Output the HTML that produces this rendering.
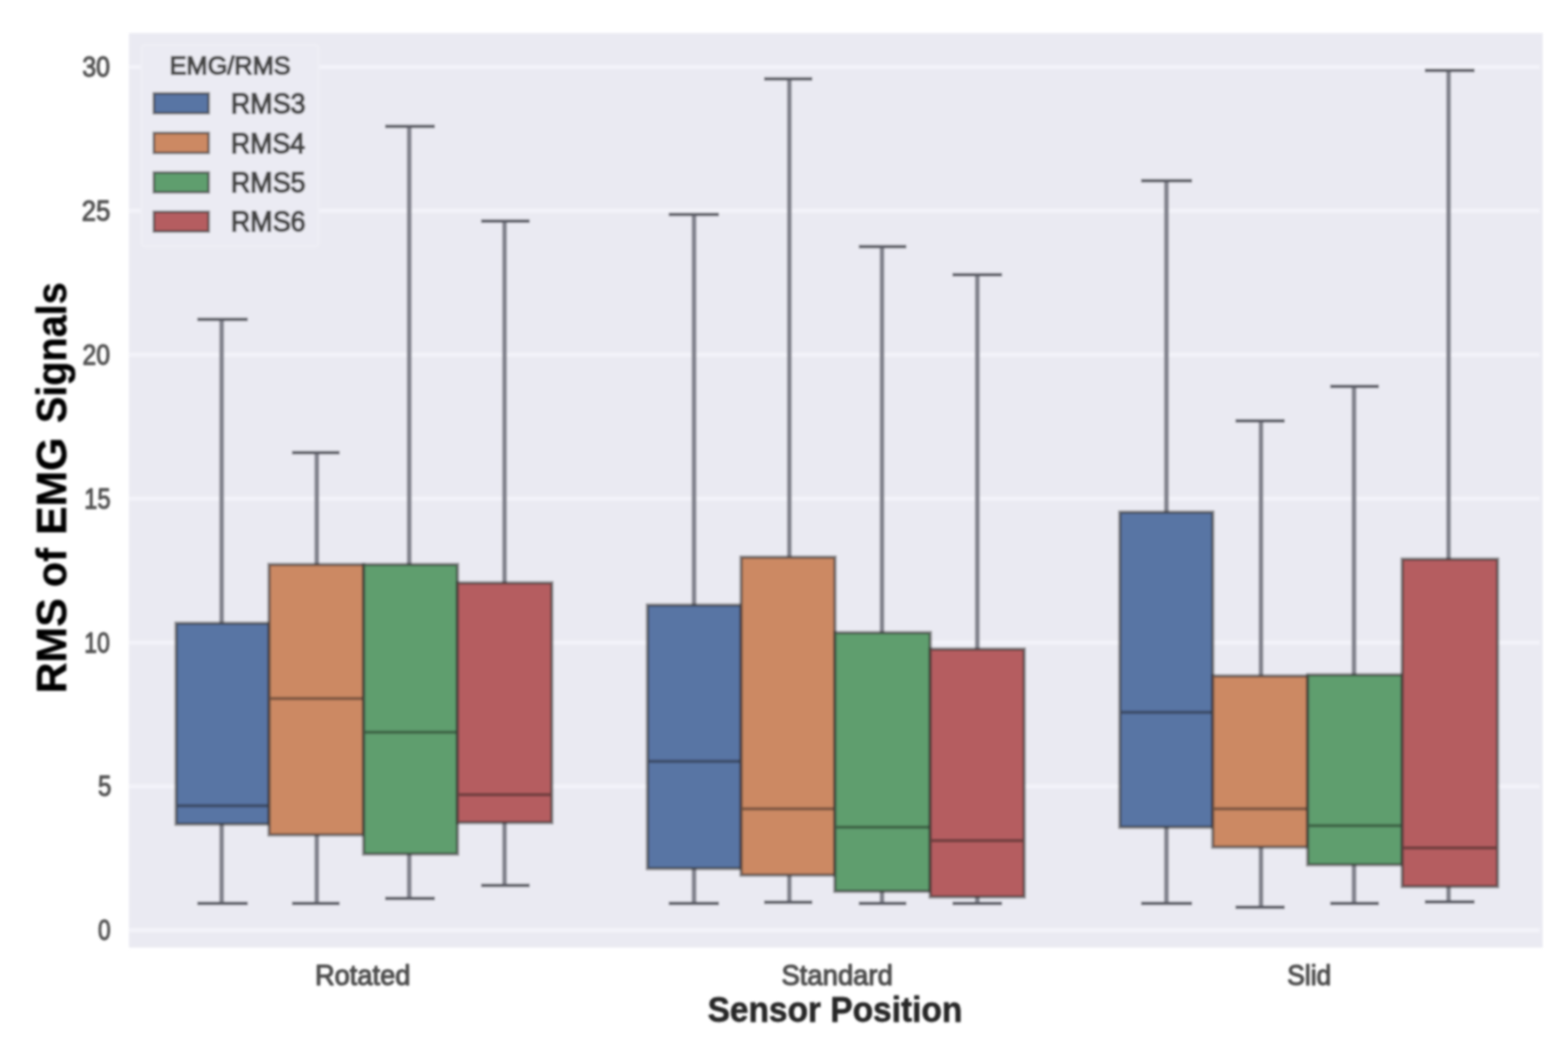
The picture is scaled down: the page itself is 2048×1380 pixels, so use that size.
<!DOCTYPE html>
<html lang="en"><head><meta charset="utf-8">
<title>RMS of EMG Signals by Sensor Position</title>
<style>
html,body{margin:0;padding:0;background:#ffffff;}
body{width:2048px;height:1380px;overflow:hidden;}
svg{display:block;}
text{font-family:"Liberation Sans",Arial,Helvetica,sans-serif;stroke-linejoin:round;}
.tick{font-size:36px;fill:#4e4e4e;stroke:#4e4e4e;stroke-width:1.5px;}
.ytick{font-size:36px;fill:#505050;stroke:#505050;stroke-width:1.3px;}
.leg{font-size:36px;fill:#474747;stroke:#474747;stroke-width:1.9px;}
.legt{font-size:33.5px;fill:#474747;stroke:#474747;stroke-width:1.9px;}
.xl{font-size:46px;font-weight:bold;fill:#262626;stroke:#262626;stroke-width:0.8px;}
.yl{font-size:55.5px;font-weight:bold;fill:#000000;stroke:#000000;stroke-width:0.5px;}
</style></head><body>
<svg width="2048" height="1380" viewBox="0 0 2048 1380" role="img" aria-label="Box plot: RMS of EMG Signals by Sensor Position">
<defs><filter id="b" x="-2%" y="-2%" width="104%" height="104%"><feGaussianBlur stdDeviation="1.8"/></filter></defs>
<rect x="0" y="0" width="2048" height="1380" fill="#ffffff"/>
<g filter="url(#b)">
<rect x="168.5" y="43.2" width="1846.5" height="1194.0" fill="#eaeaf2"/>
<line x1="168.5" y1="1214.60" x2="2011.0" y2="1214.60" stroke="#f3f3f9" stroke-width="5.5"/>
<line x1="168.5" y1="1026.75" x2="2011.0" y2="1026.75" stroke="#f3f3f9" stroke-width="5.5"/>
<line x1="168.5" y1="838.90" x2="2011.0" y2="838.90" stroke="#f3f3f9" stroke-width="5.5"/>
<line x1="168.5" y1="651.05" x2="2011.0" y2="651.05" stroke="#f3f3f9" stroke-width="5.5"/>
<line x1="168.5" y1="463.20" x2="2011.0" y2="463.20" stroke="#f3f3f9" stroke-width="5.5"/>
<line x1="168.5" y1="275.35" x2="2011.0" y2="275.35" stroke="#f3f3f9" stroke-width="5.5"/>
<line x1="168.5" y1="87.50" x2="2011.0" y2="87.50" stroke="#f3f3f9" stroke-width="5.5"/>
<g fill="none">
<line x1="289.5" y1="417" x2="289.5" y2="813.75" stroke="#82838d" stroke-width="6.2"/>
<line x1="289.5" y1="1076" x2="289.5" y2="1179.5" stroke="#82838d" stroke-width="6.2"/>
<line x1="257.75" y1="417" x2="323.5" y2="417" stroke="#5b5d66" stroke-width="4.5"/>
<line x1="257.75" y1="1179.5" x2="323.5" y2="1179.5" stroke="#5b5d66" stroke-width="4.5"/>
</g>
<g fill="none">
<line x1="413.75" y1="591" x2="413.75" y2="737" stroke="#82838d" stroke-width="6.2"/>
<line x1="413.75" y1="1090" x2="413.75" y2="1179.5" stroke="#82838d" stroke-width="6.2"/>
<line x1="381.5" y1="591" x2="443.5" y2="591" stroke="#5b5d66" stroke-width="4.5"/>
<line x1="381.5" y1="1179.5" x2="443.5" y2="1179.5" stroke="#5b5d66" stroke-width="4.5"/>
</g>
<g fill="none">
<line x1="534.5" y1="165" x2="534.5" y2="737" stroke="#82838d" stroke-width="6.2"/>
<line x1="534.5" y1="1115" x2="534.5" y2="1173" stroke="#82838d" stroke-width="6.2"/>
<line x1="503" y1="165" x2="568" y2="165" stroke="#5b5d66" stroke-width="4.5"/>
<line x1="503" y1="1173" x2="568" y2="1173" stroke="#5b5d66" stroke-width="4.5"/>
</g>
<g fill="none">
<line x1="659" y1="288.75" x2="659" y2="761" stroke="#82838d" stroke-width="6.2"/>
<line x1="659" y1="1074" x2="659" y2="1156" stroke="#82838d" stroke-width="6.2"/>
<line x1="628.5" y1="288.75" x2="691.75" y2="288.75" stroke="#5b5d66" stroke-width="4.5"/>
<line x1="628.5" y1="1156" x2="691.75" y2="1156" stroke="#5b5d66" stroke-width="4.5"/>
</g>
<g fill="none">
<line x1="906.5" y1="280" x2="906.5" y2="790" stroke="#82838d" stroke-width="6.2"/>
<line x1="906.5" y1="1134" x2="906.5" y2="1179.5" stroke="#82838d" stroke-width="6.2"/>
<line x1="873.5" y1="280" x2="939" y2="280" stroke="#5b5d66" stroke-width="4.5"/>
<line x1="873.5" y1="1179.5" x2="939" y2="1179.5" stroke="#5b5d66" stroke-width="4.5"/>
</g>
<g fill="none">
<line x1="1031" y1="103" x2="1031" y2="727.5" stroke="#82838d" stroke-width="6.2"/>
<line x1="1031" y1="1142.5" x2="1031" y2="1178" stroke="#82838d" stroke-width="6.2"/>
<line x1="998" y1="103" x2="1061" y2="103" stroke="#5b5d66" stroke-width="4.5"/>
<line x1="998" y1="1178" x2="1061" y2="1178" stroke="#5b5d66" stroke-width="4.5"/>
</g>
<g fill="none">
<line x1="1152" y1="322" x2="1152" y2="826" stroke="#82838d" stroke-width="6.2"/>
<line x1="1152" y1="1163.75" x2="1152" y2="1179.5" stroke="#82838d" stroke-width="6.2"/>
<line x1="1121.75" y1="322" x2="1183.75" y2="322" stroke="#5b5d66" stroke-width="4.5"/>
<line x1="1121.75" y1="1179.5" x2="1183.75" y2="1179.5" stroke="#5b5d66" stroke-width="4.5"/>
</g>
<g fill="none">
<line x1="1276.5" y1="358.75" x2="1276.5" y2="847.5" stroke="#82838d" stroke-width="6.2"/>
<line x1="1276.5" y1="1171" x2="1276.5" y2="1179.5" stroke="#82838d" stroke-width="6.2"/>
<line x1="1244" y1="358.75" x2="1308.75" y2="358.75" stroke="#5b5d66" stroke-width="4.5"/>
<line x1="1244" y1="1179.5" x2="1308.75" y2="1179.5" stroke="#5b5d66" stroke-width="4.5"/>
</g>
<g fill="none">
<line x1="1523.5" y1="236" x2="1523.5" y2="668.75" stroke="#82838d" stroke-width="6.2"/>
<line x1="1523.5" y1="1080" x2="1523.5" y2="1179.5" stroke="#82838d" stroke-width="6.2"/>
<line x1="1490.5" y1="236" x2="1557" y2="236" stroke="#5b5d66" stroke-width="4.5"/>
<line x1="1490.5" y1="1179.5" x2="1557" y2="1179.5" stroke="#5b5d66" stroke-width="4.5"/>
</g>
<g fill="none">
<line x1="1647" y1="549.5" x2="1647" y2="882.5" stroke="#82838d" stroke-width="6.2"/>
<line x1="1647" y1="1106" x2="1647" y2="1184.5" stroke="#82838d" stroke-width="6.2"/>
<line x1="1613.75" y1="549.5" x2="1678" y2="549.5" stroke="#5b5d66" stroke-width="4.5"/>
<line x1="1613.75" y1="1184.5" x2="1678" y2="1184.5" stroke="#5b5d66" stroke-width="4.5"/>
</g>
<g fill="none">
<line x1="1768.5" y1="504.5" x2="1768.5" y2="881" stroke="#82838d" stroke-width="6.2"/>
<line x1="1768.5" y1="1129" x2="1768.5" y2="1179.5" stroke="#82838d" stroke-width="6.2"/>
<line x1="1737.5" y1="504.5" x2="1801" y2="504.5" stroke="#5b5d66" stroke-width="4.5"/>
<line x1="1737.5" y1="1179.5" x2="1801" y2="1179.5" stroke="#5b5d66" stroke-width="4.5"/>
</g>
<g fill="none">
<line x1="1892" y1="92" x2="1892" y2="730" stroke="#82838d" stroke-width="6.2"/>
<line x1="1892" y1="1157.5" x2="1892" y2="1177.5" stroke="#82838d" stroke-width="6.2"/>
<line x1="1861" y1="92" x2="1926" y2="92" stroke="#5b5d66" stroke-width="4.5"/>
<line x1="1861" y1="1177.5" x2="1926" y2="1177.5" stroke="#5b5d66" stroke-width="4.5"/>
</g>
<rect x="230.0" y="813.75" width="121.5" height="262.25" fill="#5875a4" stroke="#2c2c2c" stroke-width="4.5" stroke-opacity="0.55"/>
<line x1="232.0" y1="1052" x2="349.5" y2="1052" stroke="#151515" stroke-width="4.5" stroke-opacity="0.4"/>
<rect x="351.5" y="737" width="123.5" height="353" fill="#cc8963" stroke="#2c2c2c" stroke-width="4.5" stroke-opacity="0.55"/>
<line x1="353.5" y1="912" x2="473" y2="912" stroke="#151515" stroke-width="4.5" stroke-opacity="0.4"/>
<rect x="475" y="737" width="122.5" height="378" fill="#5f9e6e" stroke="#2c2c2c" stroke-width="4.5" stroke-opacity="0.55"/>
<line x1="477" y1="956" x2="595.5" y2="956" stroke="#151515" stroke-width="4.5" stroke-opacity="0.4"/>
<rect x="597.5" y="761" width="123.25" height="313" fill="#b55d60" stroke="#2c2c2c" stroke-width="4.5" stroke-opacity="0.55"/>
<line x1="599.5" y1="1037.5" x2="718.75" y2="1037.5" stroke="#151515" stroke-width="4.5" stroke-opacity="0.4"/>
<rect x="845.75" y="790" width="122.25" height="344" fill="#5875a4" stroke="#2c2c2c" stroke-width="4.5" stroke-opacity="0.55"/>
<line x1="847.75" y1="994" x2="966" y2="994" stroke="#151515" stroke-width="4.5" stroke-opacity="0.4"/>
<rect x="968" y="727.5" width="122.5" height="415.0" fill="#cc8963" stroke="#2c2c2c" stroke-width="4.5" stroke-opacity="0.55"/>
<line x1="970" y1="1056" x2="1088.5" y2="1056" stroke="#151515" stroke-width="4.5" stroke-opacity="0.4"/>
<rect x="1090.5" y="826" width="124.5" height="337.75" fill="#5f9e6e" stroke="#2c2c2c" stroke-width="4.5" stroke-opacity="0.55"/>
<line x1="1092.5" y1="1080" x2="1213" y2="1080" stroke="#151515" stroke-width="4.5" stroke-opacity="0.4"/>
<rect x="1215" y="847.5" width="122.75" height="323.5" fill="#b55d60" stroke="#2c2c2c" stroke-width="4.5" stroke-opacity="0.55"/>
<line x1="1217" y1="1097.5" x2="1335.75" y2="1097.5" stroke="#151515" stroke-width="4.5" stroke-opacity="0.4"/>
<rect x="1462.75" y="668.75" width="121.25" height="411.25" fill="#5875a4" stroke="#2c2c2c" stroke-width="4.5" stroke-opacity="0.55"/>
<line x1="1464.75" y1="930" x2="1582" y2="930" stroke="#151515" stroke-width="4.5" stroke-opacity="0.4"/>
<rect x="1584" y="882.5" width="124" height="223.5" fill="#cc8963" stroke="#2c2c2c" stroke-width="4.5" stroke-opacity="0.55"/>
<line x1="1586" y1="1056" x2="1706" y2="1056" stroke="#151515" stroke-width="4.5" stroke-opacity="0.4"/>
<rect x="1708" y="881" width="123.5" height="248" fill="#5f9e6e" stroke="#2c2c2c" stroke-width="4.5" stroke-opacity="0.55"/>
<line x1="1710" y1="1078" x2="1829.5" y2="1078" stroke="#151515" stroke-width="4.5" stroke-opacity="0.4"/>
<rect x="1831.5" y="730" width="124.5" height="427.5" fill="#b55d60" stroke="#2c2c2c" stroke-width="4.5" stroke-opacity="0.55"/>
<line x1="1833.5" y1="1107" x2="1954" y2="1107" stroke="#151515" stroke-width="4.5" stroke-opacity="0.4"/>
<rect x="185" y="58.5" width="231" height="263.5" rx="5" ry="5" fill="#ebebf3" stroke="#eeeef5" stroke-width="2.5"/>
<text class="legt" x="221.5" y="96.5" textLength="158.1" lengthAdjust="spacingAndGlyphs">EMG/RMS</text>
<rect x="201" y="122.0" width="71.5" height="25.70000000000001" fill="#5875a4" stroke="#2c2c2c" stroke-width="3.5" stroke-opacity="0.6"/>
<text class="leg" x="301.4" y="147.8" textLength="97.8" lengthAdjust="spacingAndGlyphs">RMS3</text>
<rect x="201" y="173.6" width="71.5" height="26.000000000000007" fill="#cc8963" stroke="#2c2c2c" stroke-width="3.5" stroke-opacity="0.6"/>
<text class="leg" x="301.4" y="199.5" textLength="97.2" lengthAdjust="spacingAndGlyphs">RMS4</text>
<rect x="201" y="225.29999999999998" width="71.5" height="25.699999999999996" fill="#5f9e6e" stroke="#2c2c2c" stroke-width="3.5" stroke-opacity="0.6"/>
<text class="leg" x="301.4" y="251.0" textLength="97.8" lengthAdjust="spacingAndGlyphs">RMS5</text>
<rect x="201" y="276.59999999999997" width="71.5" height="25.6" fill="#b55d60" stroke="#2c2c2c" stroke-width="3.5" stroke-opacity="0.6"/>
<text class="leg" x="301.4" y="302.3" textLength="97.8" lengthAdjust="spacingAndGlyphs">RMS6</text>
<text class="ytick" x="128.1" y="1227.20" textLength="16.5" lengthAdjust="spacingAndGlyphs">0</text>
<text class="ytick" x="128.0" y="1039.35" textLength="17.5" lengthAdjust="spacingAndGlyphs">5</text>
<text class="ytick" x="110.1" y="851.50" textLength="33.4" lengthAdjust="spacingAndGlyphs">10</text>
<text class="ytick" x="110.1" y="663.65" textLength="34.4" lengthAdjust="spacingAndGlyphs">15</text>
<text class="ytick" x="107.8" y="475.80" textLength="35.9" lengthAdjust="spacingAndGlyphs">20</text>
<text class="ytick" x="106.8" y="287.95" textLength="37.3" lengthAdjust="spacingAndGlyphs">25</text>
<text class="ytick" x="107.4" y="100.10" textLength="36.2" lengthAdjust="spacingAndGlyphs">30</text>
<text class="tick" x="411.4" y="1285.6" textLength="124.6" lengthAdjust="spacingAndGlyphs">Rotated</text>
<text class="tick" x="1020.7" y="1285.6" textLength="145.4" lengthAdjust="spacingAndGlyphs">Standard</text>
<text class="tick" x="1681.3" y="1285.6" textLength="57.5" lengthAdjust="spacingAndGlyphs">Slid</text>
<text class="xl" x="924.2" y="1333.6" textLength="332.7" lengthAdjust="spacingAndGlyphs">Sensor Position</text>
<text class="yl" transform="translate(86.3 0) rotate(-90)"><tspan x="-905.3" textLength="124.3" lengthAdjust="spacingAndGlyphs">RMS</tspan> <tspan x="-766.4" textLength="50.7" lengthAdjust="spacingAndGlyphs">of</tspan> <tspan x="-698.6" textLength="127.5" lengthAdjust="spacingAndGlyphs">EMG</tspan> <tspan x="-552.2" textLength="183.6" lengthAdjust="spacingAndGlyphs">Signals</tspan></text>
</g>
</svg>
</body></html>
